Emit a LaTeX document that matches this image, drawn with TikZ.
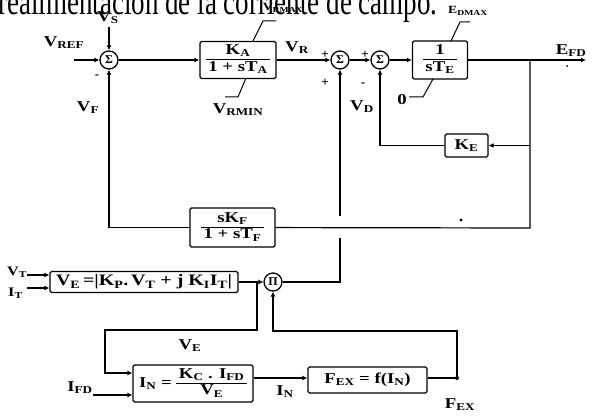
\documentclass[tikz,border=0pt]{standalone}
\usepackage{fontspec}
\setmainfont{Liberation Serif}
\newfontfamily\dfont[FakeStretch=1.25]{Liberation Serif}
\usetikzlibrary{arrows.meta}
\newcommand\fr[2]{\begin{tabular}{@{\,}c@{\,}}#1\\[0pt]\hline\rule{0pt}{12pt}#2\end{tabular}}
\newcommand\sbs[1]{\textsubscript{#1}}
\tikzset{
  lab/.style={font=\dfont\fontsize{15}{15}\selectfont\bfseries, inner sep=0},
  sgn/.style={font=\fontsize{13}{13}\selectfont\bfseries, inner sep=0},
  blk/.style={draw, line width=1.3pt, rounded corners=1.5pt, inner sep=0, font=\dfont\fontsize{15}{15}\selectfont\bfseries},
  sumn/.style={draw, circle, line width=1.3pt, minimum size=18pt, inner sep=0, font=\fontsize{12}{12}\selectfont\bfseries},
  wire/.style={line width=1.2pt},
  arr/.style={wire, -{Latex[length=5pt,width=5pt]}},
  lead/.style={line width=1pt},
}
\begin{document}
\begin{tikzpicture}[x=1pt,y=-1pt]
\useasboundingbox (0,0) rectangle (592,417);
\clip (0,0) rectangle (592,417);
% title (cut at top)
\node[anchor=base west, font=\fontsize{27}{27}\selectfont, yscale=1.4, inner sep=0] (title) at (-2,15) {realimentación de la corriente de campo.};
% summing junctions
\node[sumn] (s1) at (109,60) {Σ};
\node[sumn] (s2) at (340,60) {Σ};
\node[sumn] (s3) at (380,60) {Σ};
\node[sumn] (s4) at (273,282) {Π};
% blocks
\node[blk, minimum width=76pt, minimum height=37pt] (A) at (238,60) {\fr{K\sbs{A}}{1 + sT\sbs{A}}};
\node[blk, minimum width=55pt, minimum height=38pt] (E) at (440,60) {\fr{1}{sT\sbs{E}}};
\node[blk, minimum width=43pt, minimum height=23pt] (KE) at (466.5,145.5) {K\sbs{E}};
\node[blk, minimum width=85pt, minimum height=39pt] (KF) at (232.5,227.5) {\fr{sK\sbs{F}}{1 + sT\sbs{F}}};
\node[blk, minimum width=188pt, minimum height=21pt, font=\dfont\fontsize{16}{16}\selectfont\bfseries] (VE) at (144,282) {V\sbs{E}\,=|K\sbs{P}.\,V\sbs{T} + j K\sbs{I}I\sbs{T}|};
\node[blk, minimum width=120pt, minimum height=37pt] (IN) at (193,383.5) {I\sbs{N} = \fr{K\sbs{C} . I\sbs{FD}}{V\sbs{E}}};
\node[blk, minimum width=119pt, minimum height=26pt] (FX) at (367.5,380) {F\sbs{EX} = f(I\sbs{N})};
% coordinates
\coordinate (vs) at (109,27);
\coordinate (vref) at (74,60);
\coordinate (efd) at (586,60);
\coordinate (b1) at (530,60);
\coordinate (b2) at (530,228);
\coordinate (g1) at (340,238);
\coordinate (g2) at (340,216);
\coordinate (vt) at (27,275);
\coordinate (it) at (27,288);
\coordinate (b3) at (257,282);
\coordinate (c1) at (105,330);
\coordinate (c2) at (105,373);
\coordinate (ifd) at (93,395);
\coordinate (c3) at (0,378);
\coordinate (d1) at (457,378);
\coordinate (d2) at (457,331);
% wires
\draw[arr] (vs) -- (s1);
\draw[arr] (vref) -- (s1);
\draw[arr] (s1) -- (A);
\draw[arr] (A) -- (s2);
\draw[arr] (s2) -- (s3);
\draw[arr] (s3) -- (E);
\draw[arr] (E) -- (efd);
\draw[wire] (b1) -- (b2) -- (KF);
\draw[arr] (b1 |- KE) -- (KE);
\draw[arr] (KE.west) -| (s3.south);
\draw[arr] (KF.west) -| (s1.south);
\draw[wire] (s4.east) -- (s4.east -| g1) -- (g1);
\draw[arr] (g2) -- (s2.south);
\draw[arr] (vt) -- (vt -| VE.west);
\draw[arr] (it) -- (it -| VE.west);
\draw[arr] (VE.east) -- (s4.west);
\draw[arr] (b3) |- (c1) -- (c2) -- (c2 -| IN.west);
\draw[arr] (ifd) -- (ifd -| IN.west);
\draw[arr] (IN.east |- c3) -- (FX.west |- c3);
\draw[arr] (FX.east |- d1) -- (d1) -- (d2) -| (s4.south);
\fill (d1) circle (2pt);
% leaders
\draw[lead] (253,41) -- (263,21) -- (276,21);
\draw[lead] (246,78) -- (238,97) -- (225,97);
\draw[lead] (451,41) -- (460,22) -- (470,22);
\draw[lead] (433,79) -- (423,97) -- (409,97);
% labels
\node[lab] (lvs) at (108,18) {V\sbs{S}};
\node[lab] (lvref) at (64,43) {V\sbs{REF}};
\node[lab] (lvf) at (88,108) {V\sbs{F}};
\node[sgn] (m1) at (97,77) {-};
\node[lab] (lvr) at (297,48) {V\sbs{R}};
\node[lab, font=\dfont\fontsize{11}{11}\selectfont\bfseries] (lvrmax) at (283,8) {V\sbs{RMAX}};
\node[lab] (lvrmin) at (238,110) {V\sbs{RMIN}};
\node[sgn] (p2a) at (325,55) {+};
\node[sgn] (p2b) at (325,83) {+};
\node[sgn] (p3a) at (365,55) {+};
\node[sgn] (m3) at (363,85) {-};
\node[lab] (lvd) at (362,107) {V\sbs{D}};
\node[lab, font=\dfont\fontsize{11}{11}\selectfont\bfseries] (ledmax) at (468,11) {E\sbs{DMAX}};
\node[lab] (lzero) at (402,100) {0};
\node[lab] (lefd) at (571,51) {E\sbs{FD}};
\node[lab, anchor=west, font=\dfont\fontsize{13}{13}\selectfont\bfseries] (lvt) at (7,272) {V\sbs{T}};
\node[lab, anchor=west, font=\dfont\fontsize{13}{13}\selectfont\bfseries] (lit) at (8,293) {I\sbs{T}};
\node[lab] (lve) at (190,346) {V\sbs{E}};
\node[lab] (lifd) at (80,388) {I\sbs{FD}};
\node[lab] (lin) at (285,392) {I\sbs{N}};
\node[lab] (lfex) at (460,405) {F\sbs{EX}};
% stray specks of the original
\fill (461,220) circle (1.6pt);
\fill (567,66) circle (1pt);
\end{tikzpicture}
\end{document}
